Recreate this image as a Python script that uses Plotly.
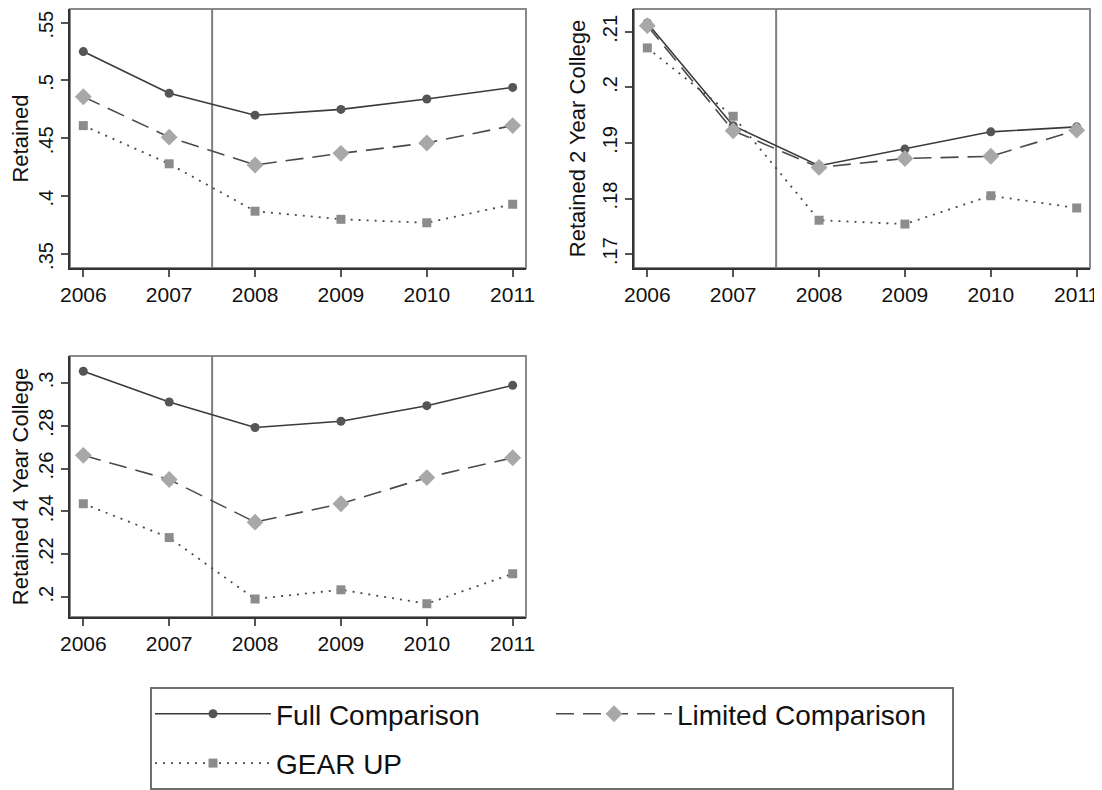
import plotly.graph_objects as go

# ---------------- data ----------------
years = [2006, 2007, 2008, 2009, 2010, 2011]
series_names = ["Full Comparison", "Limited Comparison", "GEAR UP"]

retained_full = [0.525, 0.489, 0.470, 0.475, 0.484, 0.494]
retained_limited = [0.486, 0.451, 0.427, 0.437, 0.446, 0.461]
retained_gearup = [0.461, 0.428, 0.387, 0.380, 0.377, 0.393]

ret2yr_full = [0.2116, 0.1931, 0.1859, 0.1889, 0.1920, 0.1929]
ret2yr_limited = [0.2111, 0.1922, 0.1856, 0.1872, 0.1876, 0.1923]
ret2yr_gearup = [0.2071, 0.1948, 0.1761, 0.1754, 0.1805, 0.1783]

ret4yr_full = [0.3055, 0.2911, 0.2792, 0.2821, 0.2894, 0.2989]
ret4yr_limited = [0.2662, 0.2549, 0.2350, 0.2436, 0.2558, 0.2651]
ret4yr_gearup = [0.2436, 0.2278, 0.1991, 0.2034, 0.1969, 0.2109]

y_titles = ["Retained", "Retained 2 Year College", "Retained 4 Year College"]

ytick_vals_1 = [0.35, 0.40, 0.45, 0.50, 0.55]
ytick_text_1 = [".35", ".4", ".45", ".5", ".55"]
ytick_vals_2 = [0.17, 0.18, 0.19, 0.20, 0.21]
ytick_text_2 = [".17", ".18", ".19", ".2", ".21"]
ytick_vals_3 = [0.20, 0.22, 0.24, 0.26, 0.28, 0.30]
ytick_text_3 = [".2", ".22", ".24", ".26", ".28", ".3"]

y_ranges = [[0.3379, 0.5618], [0.1675, 0.2141], [0.1907, 0.3126]]
x_range = [2005.845, 2011.155]
cutoff_year = 2007.5

# ---------------- styling ----------------
W, H = 1102, 790
OFF = 8  # default page margin of the html body
FONT = "Liberation Sans"
styles = [
    dict(line=dict(color="#3a3a3a", width=1.6, dash="solid"),
         marker=dict(symbol="circle", size=9, color="#555555")),
    dict(line=dict(color="#4a4a4a", width=1.6, dash="18px,9px"),
         marker=dict(symbol="diamond", size=13, color="#a8a8a8")),
    dict(line=dict(color="#4a4a4a", width=1.8, dash="2px,6px"),
         marker=dict(symbol="square", size=9, color="#8c8c8c")),
]

panels = [
    dict(data=[retained_full, retained_limited, retained_gearup],
         px=(70, 526), py=(9, 268), tv=ytick_vals_1, tt=ytick_text_1, shift=5),
    dict(data=[ret2yr_full, ret2yr_limited, ret2yr_gearup],
         px=(634, 1090), py=(9, 268), tv=ytick_vals_2, tt=ytick_text_2, shift=0),
    dict(data=[ret4yr_full, ret4yr_limited, ret4yr_gearup],
         px=(70, 526), py=(356, 617), tv=ytick_vals_3, tt=ytick_text_3, shift=0),
]


def fx(s):
    return (s - OFF) / W


def fy(s):
    return 1 - (s - OFF) / H


fig = go.Figure()
layout = {}
shapes = []

for i, p in enumerate(panels):
    sfx = "" if i == 0 else str(i + 1)
    xa, ya = "x" + sfx, "y" + sfx
    for j, (name, vals) in enumerate(zip(series_names, p["data"])):
        fig.add_trace(go.Scatter(
            x=years, y=vals, name=name, mode="lines+markers",
            xaxis=xa, yaxis=ya, showlegend=(i == 0), legendgroup=name,
            line=styles[j]["line"], marker=styles[j]["marker"],
        ))
    xdom = [fx(p["px"][0]), fx(p["px"][1])]
    ydom = [fy(p["py"][1]), fy(p["py"][0])]
    common = dict(showline=True, linecolor="#333333", linewidth=2,
                  ticks="outside", ticklen=7, tickwidth=2, tickcolor="#555555",
                  showgrid=False, zeroline=False, mirror=False,
                  automargin=False, ticklabeloverflow="allow")
    layout["xaxis" + sfx] = dict(common, domain=xdom, range=x_range,
                                 anchor=ya, tickvals=years,
                                 ticktext=[str(y) for y in years],
                                 ticklabelstandoff=0,
                                 tickfont=dict(family=FONT, size=21,
                                               color="#111111"))
    layout["yaxis" + sfx] = dict(common, domain=ydom, range=y_ranges[i],
                                 anchor=xa, tickvals=p["tv"], ticktext=p["tt"],
                                 tickangle=-90, ticklabelstandoff=0,
                                 ticklabelshift=p["shift"],
                                 tickfont=dict(family=FONT, size=20,
                                               color="#111111"),
                                 title=dict(text=y_titles[i], standoff=7,
                                            font=dict(family=FONT, size=22,
                                                      color="#111111")))
    shapes.append(dict(type="rect", xref=xa + " domain", yref=ya + " domain",
                       x0=0, x1=1, y0=0, y1=1, layer="below",
                       line=dict(color="#8a8a8a", width=2)))
    shapes.append(dict(type="line", xref=xa, yref=ya + " domain",
                       x0=cutoff_year, x1=cutoff_year, y0=0, y1=1,
                       layer="below", line=dict(color="#7f7f7f", width=2)))

fig.update_layout(
    **layout,
    shapes=shapes,
    width=W, height=H,
    margin=dict(l=0, r=0, t=0, b=0),
    paper_bgcolor="white", plot_bgcolor="white",
    font=dict(family=FONT, color="#111111"),
    showlegend=True,
    legend=dict(orientation="h", x=fx(552), xanchor="center",
                y=fy(687), yanchor="top",
                bordercolor="#6f6f6f", borderwidth=2, bgcolor="white",
                font=dict(family=FONT, size=28, color="#111111"),
                entrywidth=270, itemwidth=116),
)

fig.write_html("out.html")
